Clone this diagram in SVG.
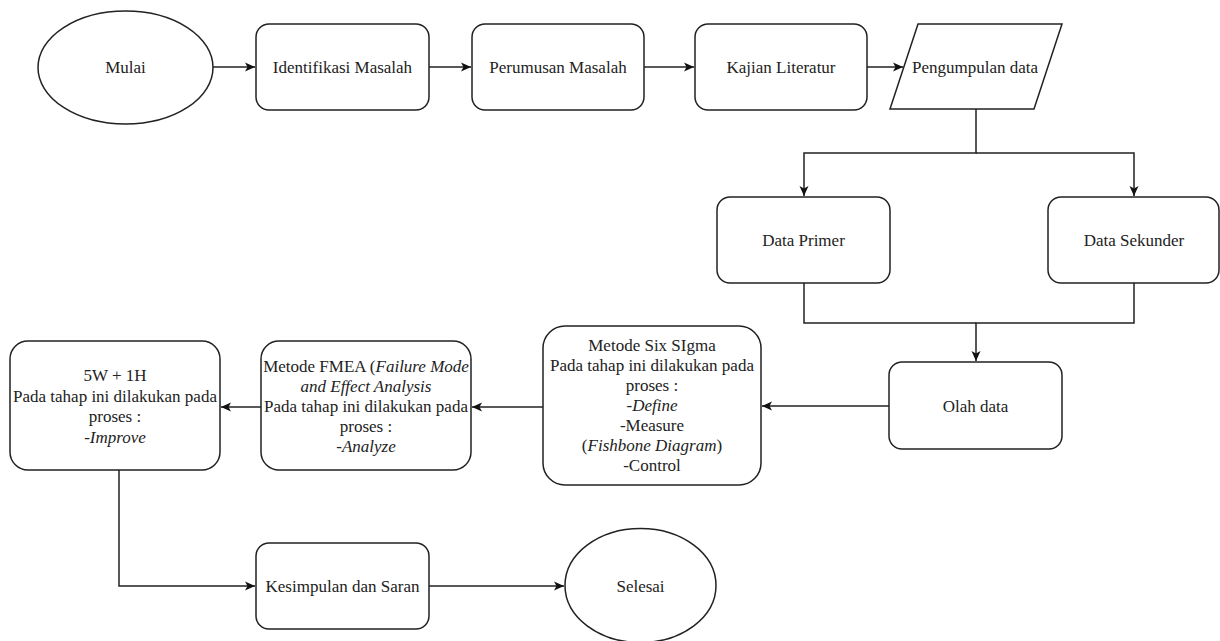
<svg xmlns="http://www.w3.org/2000/svg" width="1220" height="641" viewBox="0 0 1220 641">
<defs>
<style>
.n{fill:#fff;stroke:#222;stroke-width:1.5}
.t{font-family:'Liberation Serif','Times New Roman',serif;font-size:17px;fill:#222;text-anchor:middle}
.i{font-style:italic}
.e{fill:none;stroke:#222;stroke-width:1.5}
</style>
<marker id="ah" markerWidth="11" markerHeight="10" refX="10" refY="5" orient="auto" markerUnits="userSpaceOnUse">
<path d="M0,0.5 L10,5 L0,9.5 L2.5,5 Z" fill="#111"/>
</marker>
</defs>
<rect width="1220" height="641" fill="#fff"/>
<g id="connectors">
<path class="e" d="M213,67 H255" marker-end="url(#ah)"/>
<path class="e" d="M429,67 H471" marker-end="url(#ah)"/>
<path class="e" d="M644,67 H694" marker-end="url(#ah)"/>
<path class="e" d="M867,67 H903" marker-end="url(#ah)"/>
<path class="e" d="M976,109 V153 H804 V196" marker-end="url(#ah)"/>
<path class="e" d="M976,153 H1134 V196" marker-end="url(#ah)"/>
<path class="e" d="M804,283 V323 H976"/>
<path class="e" d="M1134,283 V323 H976 V361" marker-end="url(#ah)"/>
<path class="e" d="M889,406 H762" marker-end="url(#ah)"/>
<path class="e" d="M543,407 H472" marker-end="url(#ah)"/>
<path class="e" d="M261,407 H221" marker-end="url(#ah)"/>
<path class="e" d="M119,470 V586 H255" marker-end="url(#ah)"/>
<path class="e" d="M429,586 H564" marker-end="url(#ah)"/>
</g>
<g id="mulai">
<ellipse class="n" cx="125.5" cy="67.5" rx="87.5" ry="56.5"/>
<text class="t" x="125.5" y="73">Mulai</text>
</g>
<g id="identifikasi">
<rect class="n" x="256" y="24" width="173" height="86" rx="13"/>
<text class="t" x="342.5" y="73">Identifikasi Masalah</text>
</g>
<g id="perumusan">
<rect class="n" x="472" y="24" width="172" height="86" rx="13"/>
<text class="t" x="558" y="73">Perumusan Masalah</text>
</g>
<g id="kajian">
<rect class="n" x="695" y="24" width="172" height="86" rx="13"/>
<text class="t" x="781" y="73">Kajian Literatur</text>
</g>
<g id="pengumpulan">
<polygon class="n" points="918,24 1062,24 1034,109 890,109"/>
<text class="t" x="975" y="73">Pengumpulan data</text>
</g>
<g id="primer">
<rect class="n" x="717" y="197" width="173" height="86" rx="13"/>
<text class="t" x="803.5" y="246">Data Primer</text>
</g>
<g id="sekunder">
<rect class="n" x="1048" y="197" width="171" height="86" rx="13"/>
<text class="t" x="1134" y="246">Data Sekunder</text>
</g>
<g id="olah">
<rect class="n" x="889" y="362" width="173" height="87" rx="13"/>
<text class="t" x="975.5" y="411.5">Olah data</text>
</g>
<g id="sixsigma">
<rect class="n" x="543" y="326" width="218" height="159" rx="22"/>
<text class="t" x="652" y="350.5">Metode Six SIgma</text>
<text class="t" x="652" y="370.5">Pada tahap ini dilakukan pada</text>
<text class="t" x="652" y="390.5">proses :</text>
<text class="t" x="652" y="410.5">-<tspan class="i">Define</tspan></text>
<text class="t" x="652" y="430.5">-Measure</text>
<text class="t" x="652" y="450.5">(<tspan class="i">Fishbone Diagram</tspan>)</text>
<text class="t" x="652" y="470.5">-Control</text>
</g>
<g id="fmea">
<rect class="n" x="261" y="341" width="210" height="129" rx="18"/>
<text class="t" x="366" y="371.5">Metode FMEA (<tspan class="i">Failure Mode</tspan></text>
<text class="t i" x="366" y="391.5">and Effect Analysis</text>
<text class="t" x="366" y="411.5">Pada tahap ini dilakukan pada</text>
<text class="t" x="366" y="431.5">proses :</text>
<text class="t" x="366" y="451.5">-<tspan class="i">Analyze</tspan></text>
</g>
<g id="w5h1">
<rect class="n" x="10" y="341" width="210" height="129" rx="18"/>
<text class="t" x="115" y="381">5W + 1H</text>
<text class="t" x="115" y="401.5">Pada tahap ini dilakukan pada</text>
<text class="t" x="115" y="422">proses :</text>
<text class="t" x="115" y="442.5">-<tspan class="i">Improve</tspan></text>
</g>
<g id="kesimpulan">
<rect class="n" x="256" y="543" width="173" height="86" rx="13"/>
<text class="t" x="342.5" y="592">Kesimpulan dan Saran</text>
</g>
<g id="selesai">
<ellipse class="n" cx="640.5" cy="585.5" rx="75.5" ry="57"/>
<text class="t" x="640.5" y="591.5">Selesai</text>
</g>
</svg>
